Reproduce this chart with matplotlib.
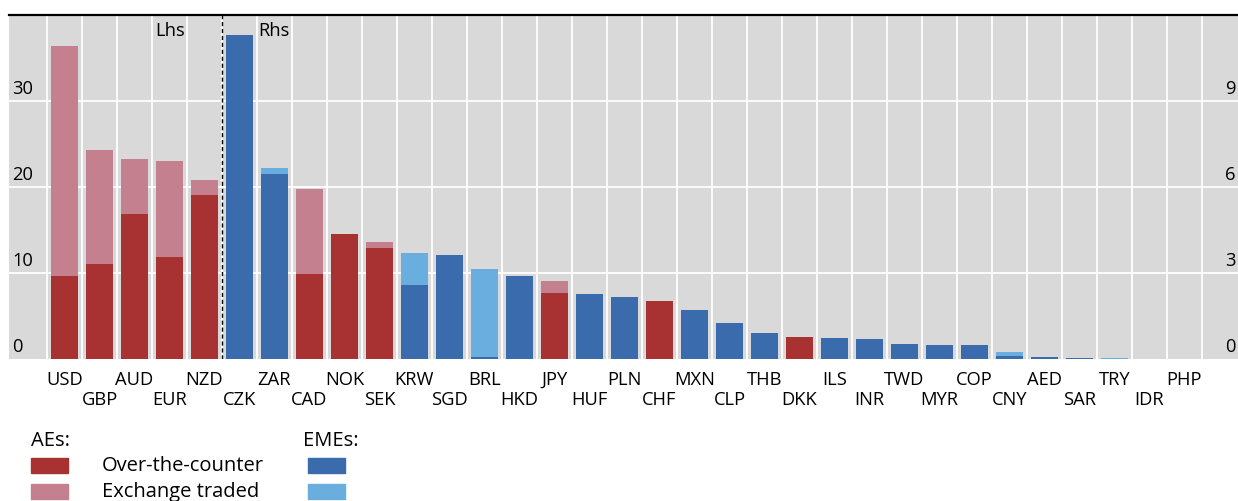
import matplotlib
matplotlib.use("Agg")
import matplotlib.pyplot as plt
from matplotlib.patches import Rectangle
from matplotlib.transforms import blended_transform_factory, ScaledTranslation

plt.rcParams['font.family'] = ['Open Sans', 'DejaVu Sans']

currencies = ["USD", "GBP", "AUD", "EUR", "NZD", "CZK", "ZAR", "CAD", "NOK", "SEK",
              "KRW", "SGD", "BRL", "HKD", "JPY", "HUF", "PLN", "CHF", "MXN", "CLP",
              "THB", "DKK", "ILS", "INR", "TWD", "MYR", "COP", "CNY", "AED", "SAR",
              "TRY", "IDR", "PHP"]
is_ae = [True, True, True, True, True, False, False, True, True, True,
         False, False, False, False, True, False, False, True, False, False,
         False, True, False, False, False, False, False, False, False, False,
         False, False, False]
otc = [9.7, 11.05, 16.9, 11.9, 19.1, 11.3, 6.45, 2.97, 4.36, 3.87,
       2.58, 3.63, 0.07, 2.90, 2.30, 2.27, 2.16, 2.02, 1.71, 1.26,
       0.91, 0.77, 0.73, 0.70, 0.52, 0.49, 0.49, 0.10, 0.07, 0.035,
       0.0, 0.0, 0.0]
exch = [26.7, 13.25, 6.4, 11.1, 1.7, 0.0, 0.21, 2.96, 0.0, 0.21,
        1.12, 0.0, 3.07, 0.0, 0.42, 0.0, 0.0, 0.0, 0.0, 0.0,
        0.0, 0.0, 0.0, 0.0, 0.0, 0.0, 0.0, 0.14, 0.0, 0.0,
        0.03, 0.0, 0.0]
n_lhs = 5
lhs_ticks = [0, 10, 20, 30]
rhs_ticks = [0, 3, 6, 9]

C_AE_OTC = "#A83232"
C_AE_ET = "#C4808E"
C_EME_OTC = "#3A6BAD"
C_EME_ET = "#6AAEE0"
BG = "#D9D9D9"

W, H = 1238, 502
fig = plt.figure(figsize=(W / 100, H / 100), dpi=100)
ax = fig.add_axes([9 / W, 1 - 360 / H, (W - 9) / W, 344 / H])
ax2 = ax.twinx()

ax.set_facecolor(BG)
ax.set_xlim(-1.586, 33.53)
ax.set_ylim(0, 40)
ax2.set_ylim(0, 12)

# grid
for b in range(len(currencies) + 1):
    ax.axvline(b - 0.5, color="white", lw=1.3, zorder=1)
for t in lhs_ticks[1:]:
    ax.axhline(t, color="white", lw=1.3, zorder=1)

bw = 0.77
for i, cur in enumerate(currencies):
    target = ax if i < n_lhs else ax2
    c1 = C_AE_OTC if is_ae[i] else C_EME_OTC
    c2 = C_AE_ET if is_ae[i] else C_EME_ET
    if otc[i] > 0:
        target.bar(i, otc[i], width=bw, color=c1, zorder=3)
    if exch[i] > 0:
        target.bar(i, exch[i], bottom=otc[i], width=bw, color=c2, zorder=3)

# dashed separator
ax2.axvline(n_lhs - 0.5, color="black", lw=1.0, ls=(0, (3, 2)), zorder=5)

for a in (ax, ax2):
    for s in ("left", "right", "bottom"):
        a.spines[s].set_visible(False)
    a.spines["top"].set_visible(a is ax)
    a.set_yticks([])
ax.spines["top"].set_linewidth(1.6)
ax.spines["top"].set_color("black")

# y tick labels inside the plot
fs = 13.2
fs_leg = 14.5
off = ScaledTranslation(0, 4 / 100, fig.dpi_scale_trans)
trl = blended_transform_factory(ax.transAxes, ax.transData) + off
for t in lhs_ticks:
    ax.text(3 / (W - 9), t, str(t), transform=trl, ha="left", va="bottom",
            fontsize=fs, zorder=6)
trr = blended_transform_factory(ax2.transAxes, ax2.transData) + off
for t in rhs_ticks:
    ax2.text(1 - 2 / (W - 9), t, str(t), transform=trr, ha="right", va="bottom",
             fontsize=fs, zorder=6)

ax.text(3.44, 38.2, "Lhs", ha="right", va="center", fontsize=fs, zorder=6)
ax.text(5.53, 38.2, "Rhs", ha="left", va="center", fontsize=fs, zorder=6)

# x labels alternating rows: even -> major ticks (upper row), odd -> minor ticks (lower row)
idx = list(range(len(currencies)))
ax.set_xticks(idx[0::2])
ax.set_xticklabels(currencies[0::2], fontsize=fs)
ax.set_xticks(idx[1::2], minor=True)
ax.set_xticklabels(currencies[1::2], minor=True, fontsize=fs)
ax.tick_params(axis="x", which="major", length=0, pad=8)
ax.tick_params(axis="x", which="minor", length=0, pad=8 + 14.3)

# legend
def fx(x):
    return x / W

def fy(y):
    return 1 - y / H

fig.text(fx(31), fy(441), "AEs:", ha="left", va="center", fontsize=fs_leg)
fig.text(fx(303), fy(441), "EMEs:", ha="left", va="center", fontsize=fs_leg)
for (y, col_ae, col_eme, lab) in [(466.5, C_AE_OTC, C_EME_OTC, "Over-the-counter"),
                                   (492, C_AE_ET, C_EME_ET, "Exchange traded")]:
    fig.patches.append(Rectangle((fx(31), fy(y + 7.5)), 37 / W, 15 / H,
                                 transform=fig.transFigure, color=col_ae))
    fig.patches.append(Rectangle((fx(308), fy(y + 7.5)), 37 / W, 15 / H,
                                 transform=fig.transFigure, color=col_eme))
    fig.text(fx(102), fy(y), lab, ha="left", va="center", fontsize=fs_leg)

fig.savefig("out.png", dpi=100)
